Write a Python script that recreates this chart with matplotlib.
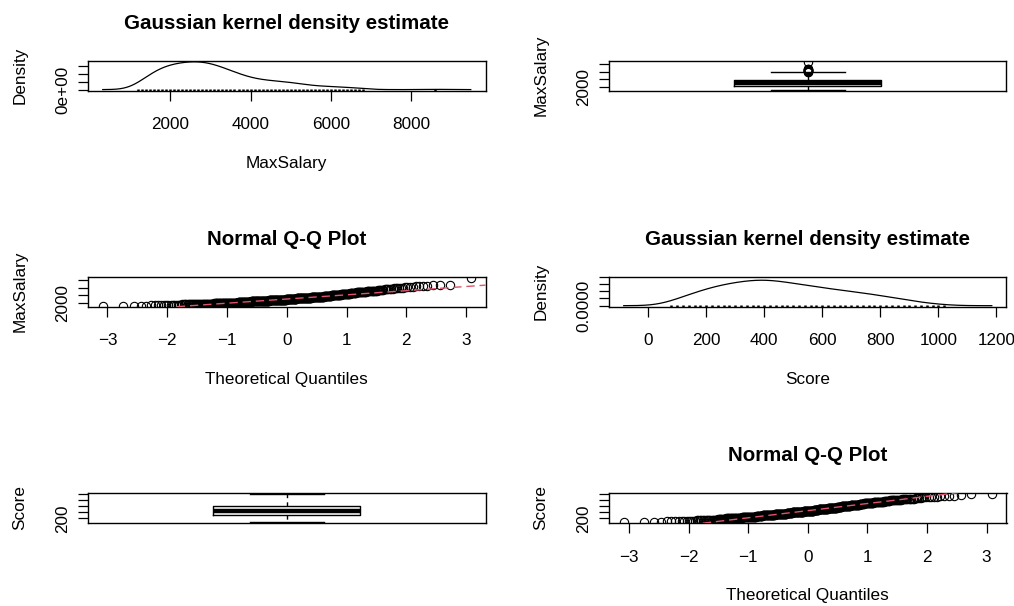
import numpy as np
import matplotlib
matplotlib.use("Agg")
import matplotlib.pyplot as plt
from statistics import NormalDist

plt.rcParams["font.family"] = ["Liberation Sans", "DejaVu Sans"]

FIG_W, FIG_H = 1014, 606

maxsal_values = [1200, 1300, 1400, 1500, 1600, 1700, 1800, 1900, 2000, 2100,
                 2200, 2300, 2400, 2500, 2600, 2700, 2800, 2900, 3000, 3100,
                 3200, 3300, 3400, 3500, 3600, 3700, 3800, 3900, 4000, 4100,
                 4200, 4300, 4400, 4500, 4600, 4700, 4800, 4900, 5000, 5100,
                 5200, 5300, 5400, 5500, 5600, 5700, 5800, 5900, 6000, 6100,
                 6200, 6300, 6400, 6500, 6600, 6700, 6800, 8600]
maxsal_counts = [5, 6, 8, 10, 12, 13, 15, 15, 16, 16,
                 17, 17, 17, 18, 18, 18, 18, 17, 17, 16,
                 15, 14, 13, 12, 11, 10, 9, 8, 7, 7,
                 6, 6, 6, 6, 5, 5, 5, 5, 5, 4,
                 4, 3, 3, 3, 2, 2, 2, 2, 2, 2,
                 2, 1, 2, 1, 1, 1, 1, 1]

score_values = [80, 100, 120, 140, 160, 180, 200, 220, 240, 260,
                280, 300, 320, 340, 360, 380, 400, 420, 440, 460,
                480, 500, 520, 540, 560, 580, 600, 620, 640, 660,
                680, 700, 720, 740, 760, 780, 800, 820, 840, 860,
                880, 900, 920, 940, 960, 980, 1000, 1020]
score_counts = [4, 5, 6, 8, 9, 10, 12, 13, 14, 15,
                15, 16, 17, 17, 18, 18, 19, 18, 17, 17,
                16, 15, 15, 14, 14, 13, 12, 12, 11, 11,
                10, 10, 9, 9, 8, 8, 7, 6, 6, 5,
                4, 4, 3, 2, 2, 1, 1, 1]

# axis ticks and the labels R kept (overlapping ones are dropped)
maxsal_xticks = [2000, 4000, 6000, 8000]
maxsal_dens_yticks = [0, 1e-4, 2e-4, 3e-4]
maxsal_dens_ylabels = ["0e+00", "", "", ""]
maxsal_yticks = [2000, 4000, 6000, 8000]
maxsal_ylabels = ["2000", "", "", ""]
score_xticks = [0, 200, 400, 600, 800, 1000, 1200]
score_dens_yticks = [0, 0.0005, 0.001, 0.0015, 0.002]
score_dens_ylabels = ["0.0000", "", "", "", ""]
score_yticks = [200, 400, 600, 800, 1000]
score_ylabels = ["200", "", "", "", ""]
qq_xticks = [-3, -2, -1, 0, 1, 2, 3]

QQ_RED = "#DF536B"
TITLE_SIZE = 14.8
LABEL_SIZE = 12.3

# panel boxes in pixels: left/right per column, top/bottom per row
COL_X = [(88, 485.5), (609, 1006.5)]
ROW_Y = [(60.7, 90.7), (276.7, 306.7), (492.7, 523.2)]


def px_axes(fig, col, row):
    x0, x1 = COL_X[col]
    y0, y1 = ROW_Y[row]
    ax = fig.add_axes([x0 / FIG_W, 1 - y1 / FIG_H, (x1 - x0) / FIG_W, (y1 - y0) / FIG_H])
    for sp in ax.spines.values():
        sp.set_linewidth(1.0)
    ax.tick_params(direction="out", length=7.2, width=0.9, labelsize=LABEL_SIZE)
    ax.tick_params(axis="x", pad=12.0)
    ax.tick_params(axis="y", pad=5.5)
    return ax


def add_texts(fig, col, row, title=None, xlabel=None, ylabel=None):
    x0, x1 = COL_X[col]
    y0, y1 = ROW_Y[row]
    xc = (x0 + x1) / 2
    if title:
        fig.text(xc / FIG_W, 1 - (y0 - 31.4) / FIG_H, title, ha="center", va="baseline",
                 fontsize=TITLE_SIZE, fontweight="bold")
    if xlabel:
        fig.text(xc / FIG_W, 1 - (y1 + 77) / FIG_H, xlabel, ha="center", va="baseline",
                 fontsize=LABEL_SIZE)
    if ylabel:
        fig.text((x0 - 75.5) / FIG_W, 1 - ((y0 + y1) / 2) / FIG_H, ylabel, ha="left",
                 va="center", rotation=90, fontsize=LABEL_SIZE)


def set_yticks(ax, ticks, labels):
    ax.set_yticks(ticks)
    ax.set_yticklabels(labels, rotation=90, va="center")


def r_density(x):
    # same recipe as R's density(): nrd0 bandwidth, cut = 3
    n = len(x)
    q75, q25 = np.percentile(x, [75, 25])
    bw = 0.9 * min(x.std(ddof=1), (q75 - q25) / 1.34) * n ** -0.2
    grid = np.linspace(x.min() - 3 * bw, x.max() + 3 * bw, 512)
    z = (grid[:, None] - x[None, :]) / bw
    dens = np.exp(-0.5 * z ** 2).sum(axis=1) / (n * bw * np.sqrt(2 * np.pi))
    return grid, dens


def plot_density(ax, x, xticks, yticks, ylabels):
    grid, dens = r_density(x)
    ax.plot(grid, dens, color="black", lw=0.9)
    ax.margins(x=0.04, y=0.04)
    ax.autoscale_view()
    ax.set_xlim(ax.get_xlim())
    ax.set_ylim(ax.get_ylim())
    # rug along the bottom
    ax.vlines(np.unique(x), 0, 0.06, color="black", lw=1.8,
              transform=ax.get_xaxis_transform())
    ax.set_xticks(xticks)
    set_yticks(ax, yticks, ylabels)


def plot_box(ax, x, yticks, ylabels):
    ax.boxplot(x, positions=[1], widths=0.37, whis=1.5, capwidths=0.185,
               manage_ticks=False,
               boxprops=dict(color="black", lw=1.0),
               medianprops=dict(color="black", lw=3.2),
               whiskerprops=dict(color="black", lw=1.0, ls=(0, (3, 3))),
               capprops=dict(color="black", lw=1.0),
               flierprops=dict(marker="o", mfc="none", mec="black", ms=6, mew=0.8))
    ax.set_xlim(0.5, 1.5)
    ax.margins(y=0.04)
    ax.set_xticks([])
    set_yticks(ax, yticks, ylabels)


def plot_qq(ax, x, yticks, ylabels):
    n = len(x)
    a = 0.375 if n <= 10 else 0.5
    probs = (np.arange(1, n + 1) - a) / (n + 1 - 2 * a)
    theo = np.array([NormalDist().inv_cdf(p) for p in probs])
    ax.plot(theo, np.sort(x), ls="none", marker="o", mfc="none", mec="black",
            ms=6, mew=0.8)
    q1, q3 = np.percentile(x, [25, 75])
    ax.axline((NormalDist().inv_cdf(0.25), q1), (NormalDist().inv_cdf(0.75), q3),
              color=QQ_RED, lw=1.0, ls=(0, (6, 3.5)), zorder=3)
    ax.margins(x=0.04, y=0.04)
    ax.set_xticks(qq_xticks)
    set_yticks(ax, yticks, ylabels)


def main():
    maxsal = np.repeat(maxsal_values, maxsal_counts).astype(float)
    score = np.repeat(score_values, score_counts).astype(float)

    fig = plt.figure(figsize=(FIG_W / 100, FIG_H / 100), dpi=100)
    fig.patch.set_facecolor("white")

    ax = px_axes(fig, 0, 0)
    plot_density(ax, maxsal, maxsal_xticks, maxsal_dens_yticks, maxsal_dens_ylabels)
    add_texts(fig, 0, 0, "Gaussian kernel density estimate", "MaxSalary", "Density")

    ax = px_axes(fig, 1, 0)
    plot_box(ax, maxsal, maxsal_yticks, maxsal_ylabels)
    add_texts(fig, 1, 0, ylabel="MaxSalary")

    ax = px_axes(fig, 0, 1)
    plot_qq(ax, maxsal, maxsal_yticks, maxsal_ylabels)
    add_texts(fig, 0, 1, "Normal Q-Q Plot", "Theoretical Quantiles", "MaxSalary")

    ax = px_axes(fig, 1, 1)
    plot_density(ax, score, score_xticks, score_dens_yticks, score_dens_ylabels)
    add_texts(fig, 1, 1, "Gaussian kernel density estimate", "Score", "Density")

    ax = px_axes(fig, 0, 2)
    plot_box(ax, score, score_yticks, score_ylabels)
    add_texts(fig, 0, 2, ylabel="Score")

    ax = px_axes(fig, 1, 2)
    plot_qq(ax, score, score_yticks, score_ylabels)
    add_texts(fig, 1, 2, "Normal Q-Q Plot", "Theoretical Quantiles", "Score")

    fig.savefig("out.png", dpi=100)


if __name__ == "__main__":
    main()
